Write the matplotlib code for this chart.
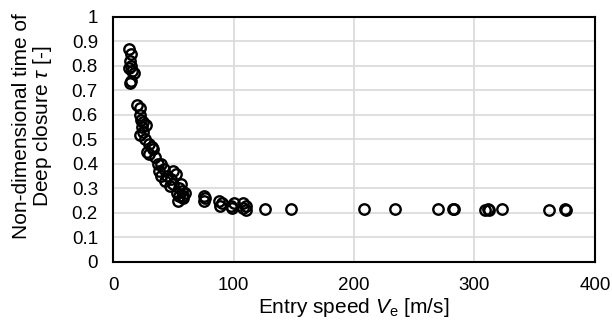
import numpy as np
import matplotlib.pyplot as plt

plt.rcParams['font.family'] = ['Liberation Sans', 'DejaVu Sans']
plt.rcParams['mathtext.fontset'] = 'custom'
plt.rcParams['mathtext.it'] = 'Liberation Sans:italic'
plt.rcParams['mathtext.rm'] = 'Liberation Sans'

# Entry speed Ve [m/s] and non-dimensional deep closure time tau [-]
speed = [13, 15, 14, 15, 13, 16, 17, 15, 14,
         20, 22, 22, 23, 25, 24, 27, 22, 25, 26,
         30, 32, 28, 33, 30, 35, 37, 40, 38, 42, 40, 45,
         43, 48, 50, 50, 52, 47, 55, 53, 55, 57, 58, 54, 60, 58, 56,
         75, 75, 76, 88, 90, 89, 98, 100, 99, 108, 108, 110, 110,
         126, 148, 208, 234, 270, 282, 283, 309, 311, 312, 323, 362, 375, 376]
tau = [0.87, 0.85, 0.82, 0.80, 0.79, 0.78, 0.77, 0.74, 0.73,
       0.64, 0.63, 0.60, 0.58, 0.57, 0.55, 0.56, 0.52, 0.53, 0.50,
       0.48, 0.47, 0.45, 0.46, 0.44, 0.43, 0.40, 0.40, 0.37, 0.38, 0.35, 0.35,
       0.33, 0.34, 0.32, 0.37, 0.36, 0.31, 0.30, 0.28, 0.27, 0.29, 0.26, 0.25, 0.28, 0.27, 0.32,
       0.27, 0.25, 0.26, 0.25, 0.24, 0.23, 0.23, 0.24, 0.22, 0.24, 0.22, 0.21, 0.23,
       0.215, 0.215, 0.215, 0.217, 0.215, 0.217, 0.215, 0.213, 0.215, 0.213, 0.215, 0.213, 0.215, 0.213]

fig = plt.figure(figsize=(6.12, 3.25), dpi=100)
ax = fig.add_axes([0.185, 0.194, 0.787, 0.754])

ax.plot(speed, tau, linestyle='none', marker='o', markersize=7.5,
        markerfacecolor='none', markeredgecolor='black', markeredgewidth=1.7, zorder=3)

ax.set_xlim(0, 400)
ax.set_ylim(0, 1)
ax.set_xticks(np.arange(0, 401, 100))
ax.set_yticks(np.arange(0, 1.01, 0.1))
ax.set_yticklabels(['0'] + ['%.1f' % v for v in np.arange(0.1, 0.95, 0.1)] + ['1'])
ax.tick_params(axis='y', length=0, labelsize=13.5, pad=11)
ax.tick_params(axis='x', length=0, labelsize=13.5, pad=11)
ax.grid(True, color='#d9d9d9', linewidth=1.2, zorder=0)
ax.set_axisbelow(True)
for s in ax.spines.values():
    s.set_color('black')
    s.set_linewidth(1.5)

ax.set_xlabel(r'Entry speed $V_\mathrm{e}$ [m/s]', fontsize=15, labelpad=1)
ax.set_ylabel('Non-dimensional time of\n' + r'Deep closure $\tau$ [-]', fontsize=15,
              linespacing=1.0)
ax.yaxis.set_label_coords(-0.123, 0.555)

fig.savefig('out.png', dpi=100)
